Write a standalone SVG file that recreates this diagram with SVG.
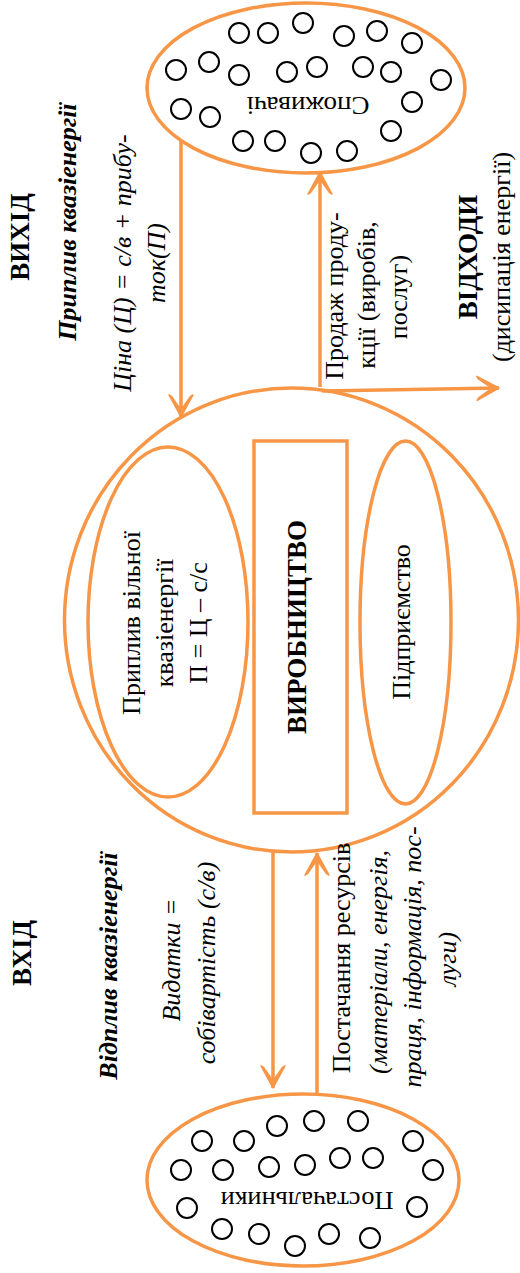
<svg xmlns="http://www.w3.org/2000/svg" width="520" height="1273" viewBox="0 0 520 1273">
<style>
.o{fill:none;stroke:#F79646;stroke-width:3.5}
.c{fill:none;stroke:#000;stroke-width:2}
.t{font-family:"Liberation Serif","DejaVu Serif",serif;font-size:26px;fill:#000;text-anchor:middle}
.b{font-weight:bold}
.i{font-style:italic}
.h{font-size:27px}
.ln{stroke:#F79646;stroke-width:3.5;fill:none}
</style>
<defs>
<marker id="ah" markerUnits="userSpaceOnUse" markerWidth="40" markerHeight="40" viewBox="-30 -20 40 40" refX="0" refY="0" orient="auto" overflow="visible">
<path d="M0,0 L-22,-12 L-20.5,-9.5 L-7,0 L-20.5,9.5 L-22,12 Z" fill="#F79646" stroke="#F79646" stroke-width="1.5" stroke-linejoin="round"/>
</marker>
</defs>
<rect width="520" height="1273" fill="#fff"/>

<g id="consumers">
<ellipse cx="306" cy="88" rx="159" ry="85" class="o"/>
<g class="c">
<circle cx="239" cy="33" r="10"/><circle cx="268" cy="33" r="10"/><circle cx="303" cy="23" r="10"/><circle cx="344" cy="36" r="10"/><circle cx="377" cy="31" r="10"/><circle cx="412" cy="43" r="10"/>
<circle cx="176" cy="70" r="10"/><circle cx="209" cy="62" r="10"/><circle cx="239" cy="75" r="10"/><circle cx="287" cy="72" r="10"/><circle cx="317" cy="67" r="10"/><circle cx="363" cy="67" r="10"/><circle cx="391" cy="72" r="10"/><circle cx="441" cy="80" r="10"/>
<circle cx="181" cy="109" r="10"/><circle cx="210" cy="117" r="10"/><circle cx="412" cy="102" r="10"/><circle cx="391" cy="131" r="10"/>
<circle cx="243" cy="141" r="10"/><circle cx="275" cy="141" r="10"/><circle cx="311" cy="153" r="10"/><circle cx="347" cy="151" r="10"/>
</g>
<text class="t" transform="translate(308,97) rotate(180)" textLength="123" lengthAdjust="spacingAndGlyphs">Споживачі</text>
</g>

<g id="suppliers">
<ellipse cx="303" cy="1180" rx="156" ry="86" class="o"/>
<g class="c">
<circle cx="202" cy="1141" r="10"/><circle cx="244" cy="1141" r="10"/><circle cx="277" cy="1126" r="10"/><circle cx="314" cy="1121" r="10"/><circle cx="358" cy="1121" r="10"/><circle cx="413" cy="1141" r="10"/>
<circle cx="181" cy="1170" r="10"/><circle cx="223" cy="1170" r="10"/><circle cx="269" cy="1167" r="10"/><circle cx="305" cy="1165" r="10"/><circle cx="340" cy="1158" r="10"/><circle cx="373" cy="1158" r="10"/><circle cx="433" cy="1170" r="10"/>
<circle cx="187" cy="1208" r="10"/><circle cx="417" cy="1207" r="10"/>
<circle cx="222" cy="1229" r="10"/><circle cx="259" cy="1234" r="10"/><circle cx="295" cy="1246" r="10"/><circle cx="329" cy="1234" r="10"/><circle cx="370" cy="1238" r="10"/>
</g>
<text class="t" transform="translate(307,1192) rotate(180)" textLength="173" lengthAdjust="spacingAndGlyphs">Постачальники</text>
</g>

<g id="production">
<ellipse cx="291.5" cy="620" rx="227" ry="232" class="o"/>
<g id="free-energy">
<ellipse cx="168" cy="622" rx="80" ry="175" class="o"/>
<text class="t" transform="translate(140,623) rotate(-90)">Приплив вільної</text>
<text class="t" transform="translate(173,623) rotate(-90)">квазіенергії</text>
<text class="t" transform="translate(207,623) rotate(-90)">П = Ц – с/с</text>
</g>
<g id="vyrobnytstvo">
<rect x="254" y="441" width="93" height="372" class="o" stroke-width="4"/>
<text class="t b h" transform="translate(306,627) rotate(-90)">ВИРОБНИЦТВО</text>
</g>
<g id="enterprise">
<ellipse cx="405.5" cy="622.5" rx="45.5" ry="181.5" class="o"/>
<text class="t" transform="translate(410,622) rotate(-90)">Підприємство</text>
</g>
</g>

<g id="connectors">
<line x1="181" y1="141" x2="181" y2="417" class="ln" marker-end="url(#ah)"/>
<line x1="320" y1="387" x2="320" y2="172" class="ln" marker-end="url(#ah)"/>
<line x1="322" y1="391" x2="499" y2="388" class="ln" stroke-width="2" marker-end="url(#ah)"/>
<line x1="273" y1="852" x2="273" y2="1088" class="ln" marker-end="url(#ah)"/>
<line x1="317" y1="1093" x2="317" y2="853" class="ln" marker-end="url(#ah)"/>
</g>

<g id="output-labels">
<text class="t b h" transform="translate(29,237) rotate(-90)">ВИХІД</text>
<text class="t b i" transform="translate(76,222) rotate(-90)">Приплив квазіенергії</text>
<text class="t i" transform="translate(131,263) rotate(-90)">Ціна (Ц) = с/в + прибу-</text>
<text class="t i" transform="translate(165,263) rotate(-90)">ток(П)</text>
</g>

<g id="sales-labels">
<text class="t" transform="translate(343,296) rotate(-90)">Продаж проду-</text>
<text class="t" transform="translate(375,295) rotate(-90)">кції (виробів,</text>
<text class="t" transform="translate(407,297) rotate(-90)">послуг)</text>
</g>

<g id="waste-labels">
<text class="t b h" transform="translate(477,257) rotate(-90)">ВІДХОДИ</text>
<text class="t" transform="translate(510,257) rotate(-90)">(дисипація енергії)</text>
</g>

<g id="input-labels">
<text class="t b h" transform="translate(31,953) rotate(-90)">ВХІД</text>
<text class="t b i" transform="translate(117,966) rotate(-90)">Відплив квазіенергії</text>
<text class="t i" transform="translate(180,960) rotate(-90)">Видатки =</text>
<text class="t i" transform="translate(215,963) rotate(-90)">собівартість (с/в)</text>
</g>

<g id="supply-labels">
<text class="t" transform="translate(350,958) rotate(-90)">Постачання ресурсів</text>
<text class="t i" transform="translate(387,962) rotate(-90)">(матеріали, енергія,</text>
<text class="t i" transform="translate(421,957) rotate(-90)">праця, інформація, пос-</text>
<text class="t i" transform="translate(456,959) rotate(-90)">луги)</text>
</g>
</svg>
